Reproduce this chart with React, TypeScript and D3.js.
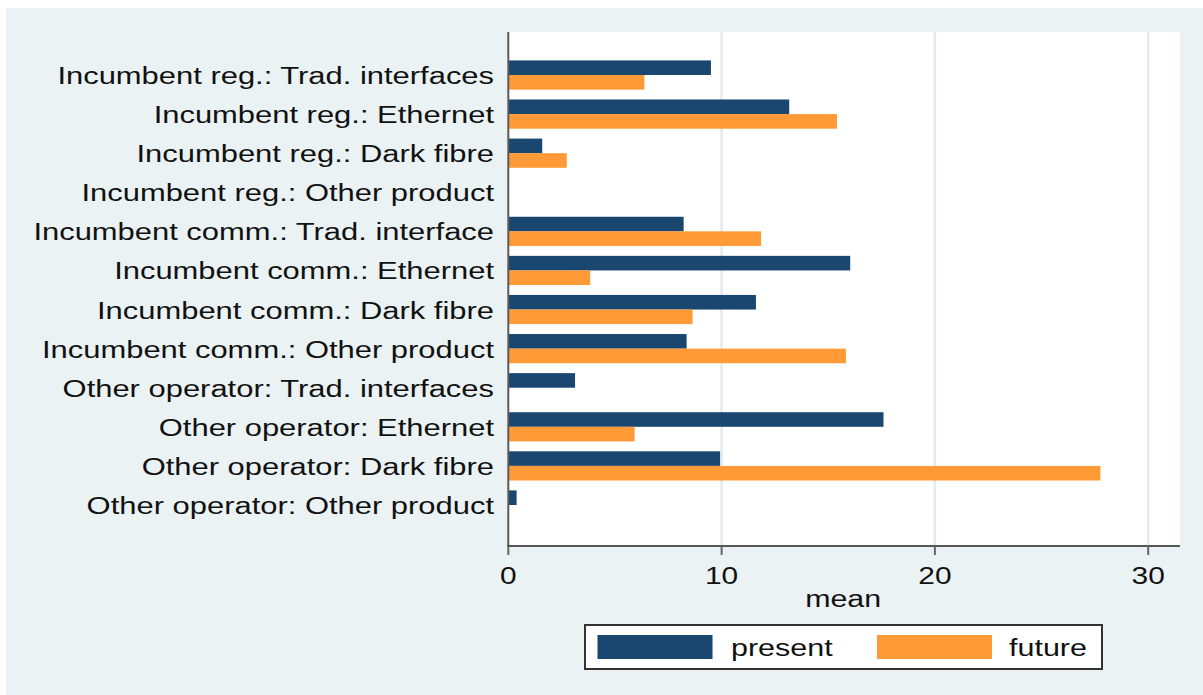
import React from "react";
import * as d3 from "d3";

const categories: string[] = [
  "Incumbent reg.: Trad. interfaces",
  "Incumbent reg.: Ethernet",
  "Incumbent reg.: Dark fibre",
  "Incumbent reg.: Other product",
  "Incumbent comm.: Trad. interface",
  "Incumbent comm.: Ethernet",
  "Incumbent comm.: Dark fibre",
  "Incumbent comm.: Other product",
  "Other operator: Trad. interfaces",
  "Other operator: Ethernet",
  "Other operator: Dark fibre",
  "Other operator: Other product",
];

const presentValues: (number | null)[] = [9.5, 13.17, 1.59, null, 8.22, 16.03, 11.61, 8.36, 3.13, 17.59, 9.93, 0.39];
const futureValues: (number | null)[] = [6.38, 15.41, 2.74, null, 11.85, 3.84, 8.64, 15.83, null, 5.92, 27.76, null];

const seriesNames: string[] = ["present", "future"];
const xTicks: number[] = [0, 10, 20, 30];
const axisTitle = "mean";

const COLORS = ["#1a476f", "#ff9a36"];
const FONT = "'Liberation Sans', Arial, Helvetica, sans-serif";
const FS = 24.5;

function T({ x, y, anchor = "start", sx = 1.22, children }: { x: number; y: number; anchor?: string; sx?: number; children: React.ReactNode }) {
  return (
    <text
      transform={`translate(${x},${y}) scale(${sx},1)`}
      textAnchor={anchor as any}
      fontFamily={FONT}
      fontSize={FS}
      fill="#111"
    >
      {children}
    </text>
  );
}

export default function App() {
  const W = 1203;
  const H = 695;
  const plotL = 508.3;
  const plotR = 1180;
  const plotT = 32;
  const plotB = 546;

  const x = d3.scaleLinear().domain([0, 30]).range([plotL, plotL + 30 * 21.33]);
  const y = d3.scalePoint<string>().domain(categories).range([75, 505]);
  const barH = 14.6;

  const series = [presentValues, futureValues];

  return (
    <svg
      width={W}
      height={H}
      style={{ position: "absolute", left: 0, top: 0, display: "block", background: "#ffffff" }}
    >
      <rect x={6} y={8} width={W - 6} height={H - 8} fill="#eaf2f3" />
      <rect x={plotL} y={plotT} width={plotR - plotL} height={plotB - plotT} fill="#ffffff" />

      {xTicks.filter((t) => t > 0).map((t) => (
        <line key={"g" + t} x1={x(t)} x2={x(t)} y1={plotT} y2={plotB} stroke="#e2ebef" strokeWidth={2.5} />
      ))}

      {categories.map((c, i) =>
        series.map((vals, s) => {
          const v = vals[i];
          if (v == null) return null;
          const cy = y(c) as number;
          return (
            <rect
              key={c + s}
              x={x(0)}
              y={s === 0 ? cy - barH : cy}
              width={x(v) - x(0)}
              height={barH}
              fill={COLORS[s]}
            />
          );
        })
      )}

      <line x1={plotL} x2={plotL} y1={plotT} y2={plotB} stroke="#5a5a5a" strokeWidth={2} />
      <line x1={plotL - 1} x2={plotR} y1={plotB} y2={plotB} stroke="#222" strokeWidth={1.6} />

      {xTicks.map((t) => (
        <g key={"t" + t}>
          <line x1={x(t)} x2={x(t)} y1={plotB} y2={plotB + 9} stroke="#666" strokeWidth={2} />
          <T x={x(t)} y={584} anchor="middle">{t}</T>
        </g>
      ))}
      <T x={(plotL + plotR) / 2 - 1} y={606.5} anchor="middle" sx={1.24}>{axisTitle}</T>

      {categories.map((c) => (
        <T key={"l" + c} x={494} y={(y(c) as number) + 9} anchor="end" sx={1.263}>{c}</T>
      ))}

      <rect x={585} y={625} width={517} height={44} fill="#ffffff" stroke="#333" strokeWidth={2} />
      {seriesNames.map((n, i) => (
        <g key={n}>
          <rect x={597.5 + i * 279.5} y={635} width={115} height={24} fill={COLORS[i]} />
          <T x={731 + i * 278} y={656} sx={1.245}>{n}</T>
        </g>
      ))}
    </svg>
  );
}
